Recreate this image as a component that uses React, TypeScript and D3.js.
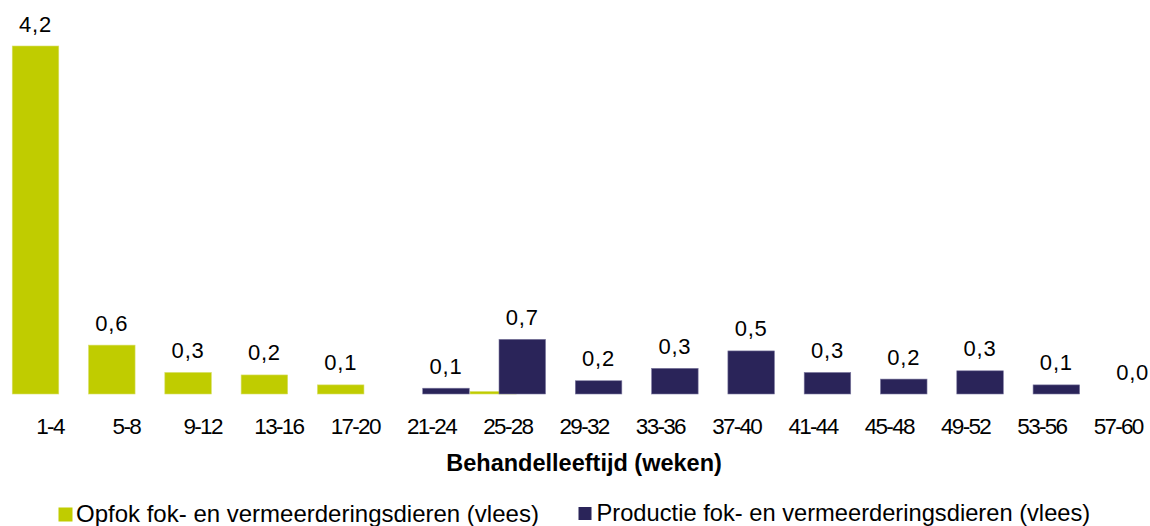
import React from "react";
import * as d3 from "d3";

const categories = ["1-4", "5-8", "9-12", "13-16", "17-20", "21-24", "25-28", "29-32", "33-36", "37-40", "41-44", "45-48", "49-52", "53-56", "57-60"];
const opfok: (number | null)[] = [4.2, 0.59, 0.26, 0.23, 0.11, null, 0.03, null, null, null, null, null, null, null, null];
const productie: (number | null)[] = [null, null, null, null, null, 0.07, 0.66, 0.16, 0.31, 0.52, 0.26, 0.18, 0.28, 0.11, 0.0];
const seriesNames = ["Opfok fok- en vermeerderingsdieren (vlees)", "Productie fok- en vermeerderingsdieren (vlees)"];
const axisTitle = "Behandelleeftijd (weken)";

const W = 1150;
const H = 526;
const GREEN = "#c0cc00";
const NAVY = "#2a2459";
const FONT = "'Liberation Sans', Arial, Helvetica, sans-serif";

const fmt = (v: number) => v.toFixed(1).replace(".", ",");

export default function App() {
  const x = d3.scaleBand<string>().domain(categories).range([11.85, 1156.3]).paddingInner(0).paddingOuter(0);
  const y = d3.scaleLinear().domain([0, 4.2]).range([394, 46]);
  const bw = x.bandwidth();
  const barW = bw * 0.61;
  const off = bw * 0.19;

  const series = [
    { values: opfok, color: GREEN, stroke: "#d8df6a", shift: -off },
    { values: productie, color: NAVY, stroke: "#7d79a0", shift: off },
  ];

  return (
    <svg width={W} height={H} style={{ position: "absolute", left: 0, top: 0, background: "#fff" }} fontFamily={FONT}>
      {series.map((s, si) => (
        <g key={si}>
          {s.values.map((v, i) => {
            if (v == null) return null;
            const cx = (x(categories[i]) as number) + bw / 2 + s.shift;
            const h = y(0) - y(v);
            if (h <= 0.2) return null;
            return (
              <rect key={i} x={cx - barW / 2} y={y(v)} width={barW} height={h} fill={s.color} stroke={s.stroke} strokeWidth={0.6} />
            );
          })}
        </g>
      ))}
      {categories.map((c, i) => {
        const useProd = productie[i] != null;
        const v = useProd ? (productie[i] as number) : opfok[i];
        if (v == null) return null;
        const cx = (x(c) as number) + bw / 2 + (useProd ? off : -off);
        return (
          <text key={c} x={cx} y={y(v) - 14.5} textAnchor="middle" fontSize={22} letterSpacing={0.8} fill="#000">
            {fmt(v)}
          </text>
        );
      })}
      {categories.map((c) => (
        <text key={"t" + c} x={(x(c) as number) + bw / 2} y={434} textAnchor="middle" fontSize={22.5} letterSpacing={-1.7} fill="#000">
          {c}
        </text>
      ))}
      <text x={(11.85 + 1156.3) / 2} y={471} textAnchor="middle" fontSize={23.5} fontWeight="bold" fill="#000">
        {axisTitle}
      </text>
      <rect x={58.5} y={507.5} width={14} height={14} fill={GREEN} />
      <text x={76} y={521.5} fontSize={24} fill="#000">{seriesNames[0]}</text>
      <rect x={578.5} y={507} width={13} height={13} fill={NAVY} />
      <text x={596.5} y={521} fontSize={23.7} fill="#000">{seriesNames[1]}</text>
    </svg>
  );
}
